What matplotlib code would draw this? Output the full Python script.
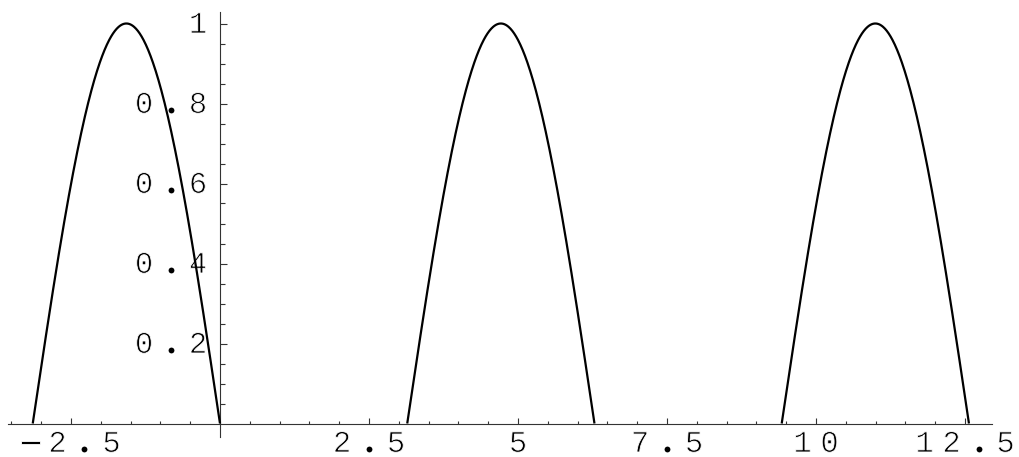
import numpy as np
import matplotlib
matplotlib.use('Agg')
import matplotlib.pyplot as plt
import matplotlib.patheffects as pe
from matplotlib.transforms import ScaledTranslation

# positive half-waves of -sin(x), one per period
arc_starts = [-np.pi, np.pi, 3 * np.pi]
arc_len = np.pi

x_tick_values = [-2.5, 2.5, 5, 7.5, 10, 12.5]
x_tick_labels = ["\u22122.5", "2.5", "5", "7.5", "10", "12.5"]
y_tick_values = [0.2, 0.4, 0.6, 0.8, 1.0]
y_tick_labels = ["0.2", "0.4", "0.6", "0.8", "1"]

DPI = 100
CHAR_STEP = 27  # px between character centres
FONT = ['Liberation Mono', 'DejaVu Sans Mono']
AXIS_COLOR = '#333333'

fig = plt.figure(figsize=(10.19, 4.57), dpi=DPI)
ax = fig.add_axes([0, 0, 1, 1])
ax.set_xlim(-3.691, 13.406)
ax.set_ylim(-0.08375, 1.05875)

for a in arc_starts:
    x = np.linspace(a, a + arc_len, 400)
    ax.plot(x, -np.sin(x), color='black', lw=1.6, solid_capstyle='butt', zorder=3)

# axes through the origin
for s in ['top', 'right']:
    ax.spines[s].set_visible(False)
ax.spines['left'].set_position(('data', 0))
ax.spines['bottom'].set_position(('data', 0))
ax.spines['bottom'].set_bounds(-3.56, 12.95)
ax.spines['left'].set_bounds(-0.033, 1.028)
for s in ['left', 'bottom']:
    ax.spines[s].set_color(AXIS_COLOR)
    ax.spines[s].set_linewidth(0.8)

ax.set_xticks(x_tick_values)
ax.set_xticks([v for v in np.arange(-3.5, 12.51, 0.5) if v not in x_tick_values], minor=True)
ax.set_yticks(y_tick_values)
ax.set_yticks([v for v in np.round(np.arange(0.05, 1.0, 0.05), 2) if v not in y_tick_values], minor=True)
ax.tick_params(which='both', direction='in', labelbottom=False, labelleft=False,
               color=AXIS_COLOR, width=0.8)
ax.tick_params(axis='x', which='major', length=4.5)
ax.tick_params(axis='x', which='minor', length=2.5)
ax.tick_params(axis='y', which='major', length=5.2)
ax.tick_params(axis='y', which='minor', length=3.6)

# white outline eats a little of each glyph so the strokes come out thinner
thin = [pe.Stroke(linewidth=0.6, foreground='white')]


def put_chars(x, y, text, first_px, base_px):
    # one glyph at a time so the wide letter spacing can be kept
    for i, ch in enumerate(text):
        off = ScaledTranslation((first_px + i * CHAR_STEP) / DPI, base_px / DPI,
                                fig.dpi_scale_trans)
        if ch == '.':
            # round decimal point
            dot = ScaledTranslation((first_px + i * CHAR_STEP) / DPI, (base_px + 2.8) / DPI,
                                    fig.dpi_scale_trans)
            ax.plot([x], [y], 'o', ms=4.2, color='black', mew=0,
                    transform=ax.transData + dot, zorder=1, clip_on=False)
            continue
        fam = ['DejaVu Sans'] if ch == '\u2212' else FONT
        ax.text(x, y, ch, transform=ax.transData + off, ha='center', va='baseline',
                family=fam, fontsize=22, color='black', zorder=1, path_effects=thin)


for v, lab in zip(x_tick_values, x_tick_labels):
    n = len(lab)
    put_chars(v, 0, lab, -(n - 1) / 2 * CHAR_STEP, -28.5)

for v, lab in zip(y_tick_values, y_tick_labels):
    n = len(lab)
    put_chars(0, v, lab, -22 - (n - 1) * CHAR_STEP, -9.5)

fig.savefig('out.png', dpi=DPI)
